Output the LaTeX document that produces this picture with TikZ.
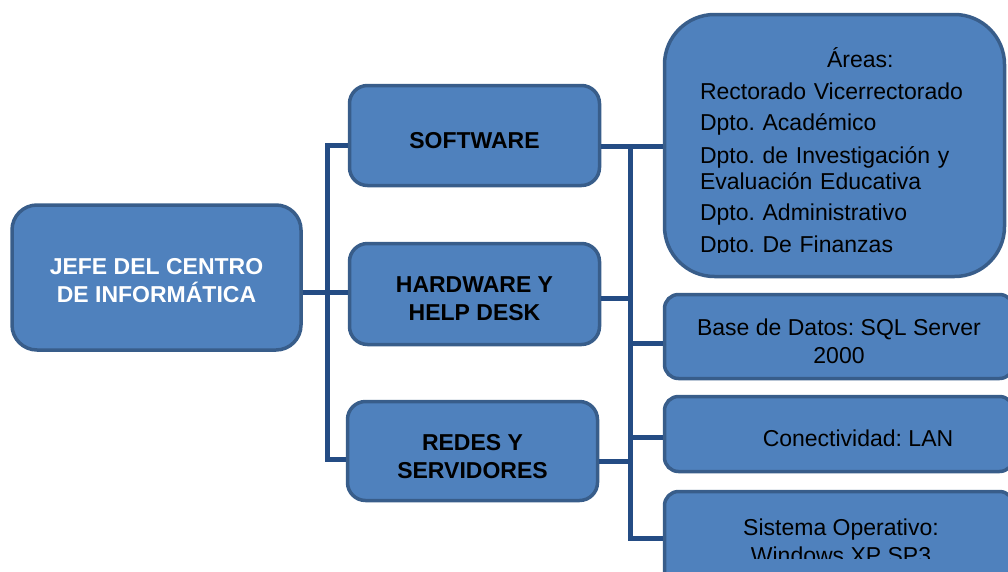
\documentclass[tikz,border=0pt]{standalone}
\usepackage{fontspec}
\setmainfont{Liberation Sans}
\frenchspacing
\definecolor{boxfill}{HTML}{4F81BD}
\definecolor{boxline}{HTML}{385D8A}
\definecolor{linkline}{HTML}{244C84}
\newcommand{\boxstrut}[1]{\rule{0pt}{#1}}
\begin{document}
\begin{tikzpicture}[x=1pt,y=-1pt,
    every node/.style={font=\fontsize{23}{28}\selectfont},
    base box/.style={draw=boxline,fill=boxfill,line width=3.5pt,inner sep=0pt,align=center},
    main node/.style={base box,rounded corners=25pt,minimum width=289pt,minimum height=145pt,text=white,font=\fontsize{23}{28}\selectfont\bfseries},
    area node/.style={base box,rounded corners=18pt,minimum width=250pt,minimum height=100pt,font=\fontsize{23}{28}\selectfont\bfseries},
    big node/.style={base box,rounded corners=50pt,minimum width=340pt,minimum height=262pt},
    item node/.style={base box,rounded corners=14pt,minimum width=349pt},
    link/.style={draw=linkline,line width=5pt}]
    \useasboundingbox (0,0) rectangle (1008,571);
    \clip (0,0) rectangle (1008,571);

    \node[main node] at (156.5,277.5) (root) {\boxstrut{22pt}JEFE DEL CENTRO\\DE INFORMÁTICA};
    \node[area node] at (474.5,135.5) (sw) {\boxstrut{26pt}SOFTWARE};
    \node[area node,minimum height=101pt] at (474.5,294) (hw) {\boxstrut{26pt}HARDWARE Y\\HELP DESK};
    \node[area node,minimum height=99pt] at (472.5,451) (rd) {\boxstrut{28pt}REDES Y\\SERVIDORES};

    \node[big node] at (834.5,145.5) (ar) {};
    \begin{scope}
        \clip (663,13) rectangle (1006,252);
        \node[align=left,text width=270pt] at (835,152) (artxt)
            {\hspace*{127pt}Áreas:\\[4pt]
             Rectorado Vicerrectorado\\[3pt]
             Dpto. Académico\\[5pt]
             Dpto. de Investigación y\\[-2pt]
             Evaluación Educativa\\[3pt]
             Dpto. Administrativo\\[4pt]
             Dpto. De Finanzas};
    \end{scope}
    \node[item node,minimum height=84pt] at (839,336.5) (db) {\boxstrut{26pt}Base de Datos: SQL Server\\2000};
    \node[item node,minimum height=75pt] at (839,434) (cn) {\boxstrut{25pt}\hspace*{38pt}Conectividad: LAN};
    \node[item node,minimum height=97pt] at (839,540) (so) {};
    \begin{scope}
        \clip (663,490) rectangle (1008,558);
        \node[align=center] at (841,541) (sotxt) {Sistema Operativo:\\Windows XP SP3};
    \end{scope}

    % left bus
    \coordinate (b1) at (327,145);
    \coordinate (b2) at (327,292);
    \coordinate (b3) at (327,459);
    \draw[link] (sw.west |- b1) -- (b1) -- (b3) -- (rd.west |- b3);
    \draw[link] (root.east |- b2) -- (hw.west |- b2);

    % right bus
    \coordinate (r1) at (630,146);
    \coordinate (r2) at (630,298);
    \coordinate (r3) at (630,461);
    \coordinate (r4) at (630,343);
    \coordinate (r5) at (630,437);
    \coordinate (r6) at (630,538);
    \draw[link] (sw.east |- r1) -- (ar.west |- r1);
    \draw[link] (r1) -- (r6) -- (so.west |- r6);
    \draw[link] (hw.east |- r2) -- (r2);
    \draw[link] (rd.east |- r3) -- (r3);
    \draw[link] (r4) -- (db.west |- r4);
    \draw[link] (r5) -- (cn.west |- r5);
\end{tikzpicture}
\end{document}
